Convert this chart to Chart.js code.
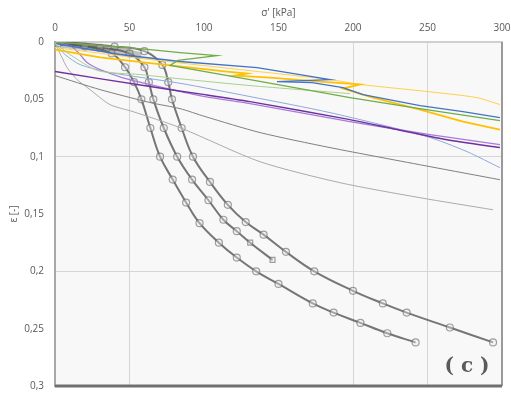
<!DOCTYPE html>
<html>
<head>
<meta charset="utf-8">
<script src="https://cdn.jsdelivr.net/npm/chart.js@4.4.1/dist/chart.umd.min.js"></script>
<style>
  html, body { margin: 0; padding: 0; background: #fff; }
</style>
</head>
<body>
<canvas id="chart" width="511" height="394"></canvas>
<script>
// axis ticks
const sigmaTicks = [0, 50, 100, 150, 200, 250, 300];
const epsTicks = [0, 0.05, 0.1, 0.15, 0.2, 0.25, 0.3];
const sigmaGrid = [50, 200, 250];   // grid lines visible in the scan
const epsGrid = [0.1, 0.2];

// scanned reference curves (grey, with circle markers)
const scanLeftSigma = [2, 20, 38, 47, 53, 58, 64, 70.5, 79, 88, 97, 110, 122, 135, 150, 173, 187, 205, 223, 242];
const scanLeftEps   = [0.001, 0.004, 0.01, 0.022, 0.035, 0.05, 0.075, 0.1, 0.12, 0.14, 0.158, 0.175, 0.188, 0.2, 0.211, 0.228, 0.236, 0.245, 0.254, 0.262];
const scanMidSigma = [2, 30, 50, 60, 63, 66, 73, 82, 92, 103, 113, 122, 131, 146];
const scanMidEps   = [0.001, 0.005, 0.01, 0.022, 0.035, 0.05, 0.075, 0.1, 0.12, 0.138, 0.155, 0.165, 0.175, 0.19];
const scanRightSigma = [5, 40, 60, 72, 76, 78.5, 85, 92.6, 104, 116, 128, 140, 155, 174, 200, 220, 236, 265, 294];
const scanRightEps   = [0, 0.004, 0.008, 0.02, 0.035, 0.05, 0.075, 0.1, 0.122, 0.142, 0.157, 0.168, 0.183, 0.2, 0.217, 0.228, 0.236, 0.249, 0.262];
// dark smudge of the scan along the top
const scanSmearSigma = [4, 20, 40, 58];
const scanSmearEps   = [0.002, 0.004, 0.007, 0.012];

// simulated curves
const greenSigma = [0, 30.2, 63.8, 83.9, 108.7, 82.5, 77.2, 130.9, 198, 240.3, 298.6];
const greenEps   = [0, 0.003, 0.0066, 0.0092, 0.0118, 0.016, 0.0205, 0.0328, 0.0485, 0.0572, 0.0686];
const lightGreenSigma = [0, 10.1, 28.9, 57, 82.5, 130.9, 198];
const lightGreenEps   = [0.001, 0.011, 0.025, 0.0284, 0.0319, 0.038, 0.045];
const blueSigma = [0, 43.6, 83.9, 135.6, 164.4, 184.6, 149, 172.5, 193.3, 206.7, 245, 273.8, 298.6];
const blueEps   = [0.0013, 0.0109, 0.017, 0.0223, 0.0284, 0.0328, 0.0345, 0.0354, 0.0397, 0.0459, 0.0555, 0.0607, 0.0659];
const goldSigma = [0, 30.2, 63.8, 115.4, 128.9, 120.8, 144.3, 177.8, 204.7, 193.3, 213.4, 245, 273.8, 298.6];
const goldEps   = [0.0066, 0.0135, 0.0185, 0.0258, 0.0275, 0.0293, 0.031, 0.0345, 0.037, 0.0406, 0.0485, 0.059, 0.0694, 0.0764];
const yellowSigma = [0, 63.8, 130.9, 184.6, 204.7, 249.7, 283.2, 298.6];
const yellowEps   = [0.0048, 0.0153, 0.025, 0.0328, 0.037, 0.0432, 0.0485, 0.0546];
const purpleSigma = [0, 63.8, 100.7, 130.9, 198, 229.5, 263.1, 298.6];
const purpleEps   = [0.0258, 0.0389, 0.0459, 0.052, 0.0677, 0.0764, 0.0852, 0.0921];
const lilacSigma = [1.3, 11.4, 16.8, 21.5, 30.2, 45, 63.8, 100.7, 130.9, 198, 251.7, 298.6];
const lilacEps   = [0.0004, 0.004, 0.011, 0.0179, 0.024, 0.031, 0.0371, 0.0476, 0.0537, 0.0694, 0.0808, 0.0895];
const lightBlueSigma = [0, 6.7, 16.8, 36.9, 83.9, 130.9, 184.6, 249.7, 276.5, 298.6];
const lightBlueEps   = [0.0013, 0.0109, 0.0197, 0.0266, 0.036, 0.0476, 0.0616, 0.0825, 0.0956, 0.1096];
const greySigma = [0, 30.2, 63.8, 83.9, 100.7, 137.6, 184.6, 251.7, 298.6];
const greyEps   = [0.0293, 0.0415, 0.0528, 0.0581, 0.065, 0.079, 0.0921, 0.1087, 0.1201];
const lightGreySigma = [0, 2, 4.7, 8.1, 14.8, 23.5, 36.9, 52.3, 83.9, 137.6, 191.3, 245, 294];
const lightGreyEps   = [0.0013, 0.0066, 0.0135, 0.0223, 0.0328, 0.0415, 0.0546, 0.0607, 0.0747, 0.1044, 0.1227, 0.1358, 0.1463];

const pts = (xs, ys) => xs.map((x, i) => ({ x: x, y: ys[i] }));

function simLine(label, xs, ys, color, width, tension) {
  return {
    label: label,
    data: pts(xs, ys),
    showLine: true,
    borderColor: color,
    borderWidth: width,
    pointRadius: 0,
    tension: tension
  };
}

function scanLine(label, xs, ys, styles) {
  return {
    label: label,
    data: pts(xs, ys),
    showLine: true,
    borderColor: 'rgba(85,85,85,0.8)',
    borderWidth: 2,
    pointRadius: 3.5,
    pointStyle: styles || 'circle',
    pointBorderWidth: 1.2,
    pointBorderColor: 'rgba(100,100,100,0.6)',
    pointBackgroundColor: 'rgba(235,235,235,0.4)',
    tension: 0.4
  };
}

// the middle scanned curve ends with square markers
const midStyles = scanMidSigma.map((v, i) => i >= scanMidSigma.length - 2 ? 'rect' : 'circle');

const frame = {
  id: 'frame',
  beforeDraw(chart) {
    const { ctx, chartArea: a } = chart;
    ctx.save();
    ctx.fillStyle = '#f8f8f8';
    ctx.fillRect(a.left, a.top, a.right - a.left, a.bottom - a.top);
    ctx.restore();
  },
  afterDraw(chart) {
    const { ctx, chartArea: a } = chart;
    ctx.save();
    ctx.strokeStyle = '#9a9a9a';
    ctx.lineWidth = 2;
    ctx.beginPath();
    ctx.moveTo(a.right, a.top);
    ctx.lineTo(a.right, a.bottom);
    ctx.stroke();
    ctx.strokeStyle = '#707070';
    ctx.lineWidth = 3;
    ctx.beginPath();
    ctx.moveTo(a.left, a.bottom);
    ctx.lineTo(a.right, a.bottom);
    ctx.stroke();
    ctx.fillStyle = '#5a5a5a';
    ctx.font = 'bold 20px "DejaVu Serif", serif';
    ctx.textAlign = 'center';
    ctx.textBaseline = 'middle';
    ctx.fillText('( c )', a.right - 35, a.bottom - 19);
    ctx.restore();
  }
};

new Chart(document.getElementById('chart'), {
  type: 'scatter',
  data: {
    datasets: [
      simLine('green', greenSigma, greenEps, '#70AD47', 1.3, 0),
      simLine('light green', lightGreenSigma, lightGreenEps, '#A9D18E', 1, 0.25),
      simLine('blue', blueSigma, blueEps, '#4472C4', 1.3, 0),
      simLine('gold', goldSigma, goldEps, '#FFC000', 1.8, 0),
      simLine('yellow', yellowSigma, yellowEps, '#FFD24A', 1, 0.25),
      simLine('purple', purpleSigma, purpleEps, '#7030A0', 1.5, 0.25),
      simLine('lilac', lilacSigma, lilacEps, '#A67CD8', 1.3, 0.25),
      simLine('light blue', lightBlueSigma, lightBlueEps, '#8FAADC', 1, 0.25),
      simLine('grey', greySigma, greyEps, '#808080', 1, 0.25),
      simLine('light grey', lightGreySigma, lightGreyEps, '#ABABAB', 1, 0.25),
      {
        label: 'scan smear',
        data: pts(scanSmearSigma, scanSmearEps),
        showLine: true,
        borderColor: 'rgba(90,90,90,0.35)',
        borderWidth: 7,
        pointRadius: 0,
        tension: 0.3
      },
      scanLine('scan 1', scanLeftSigma, scanLeftEps),
      scanLine('scan 2', scanMidSigma, scanMidEps, midStyles),
      scanLine('scan 3', scanRightSigma, scanRightEps)
    ]
  },
  options: {
    responsive: false,
    animation: false,
    layout: { padding: { left: 0, top: 0, right: 9, bottom: 8 } },
    plugins: {
      legend: { display: false },
      tooltip: { enabled: false }
    },
    scales: {
      x: {
        type: 'linear',
        position: 'top',
        min: 0,
        max: 300,
        afterBuildTicks: s => { s.ticks = sigmaTicks.map(v => ({ value: v })); },
        afterFit: s => { s.height = 42; s.paddingLeft = 0; s.paddingRight = 0; },
        ticks: {
          color: '#595959',
          font: { family: '"Open Sans", sans-serif', size: 10 },
          padding: 8,
          maxRotation: 0
        },
        grid: {
          drawTicks: false,
          color: c => sigmaGrid.includes(c.tick && c.tick.value) ? '#d6d6d6' : 'rgba(0,0,0,0)'
        },
        border: { color: '#d0d0d0', width: 2 },
        title: {
          display: true,
          text: "σ' [kPa]",
          color: '#595959',
          font: { family: '"Open Sans", sans-serif', size: 10 },
          padding: { top: 7, bottom: 0 }
        }
      },
      y: {
        type: 'linear',
        reverse: true,
        min: 0,
        max: 0.3,
        afterBuildTicks: s => { s.ticks = epsTicks.map(v => ({ value: v })); },
        afterFit: s => { s.width = 55; s.paddingTop = 0; s.paddingBottom = 0; },
        ticks: {
          color: '#595959',
          font: { family: '"Open Sans", sans-serif', size: 10 },
          padding: 11,
          callback: v => String(Math.round(v * 100) / 100).replace('.', ',')
        },
        grid: {
          drawTicks: false,
          color: c => epsGrid.includes(c.tick && Math.round(c.tick.value * 100) / 100) ? '#d6d6d6' : 'rgba(0,0,0,0)'
        },
        border: { color: '#a8a8a8', width: 2 },
        title: {
          display: true,
          text: 'ε [-]',
          color: '#595959',
          font: { family: '"Open Sans", sans-serif', size: 10 },
          padding: { top: 8, bottom: 0 }
        }
      }
    }
  },
  plugins: [frame]
});
</script>
</body>
</html>
